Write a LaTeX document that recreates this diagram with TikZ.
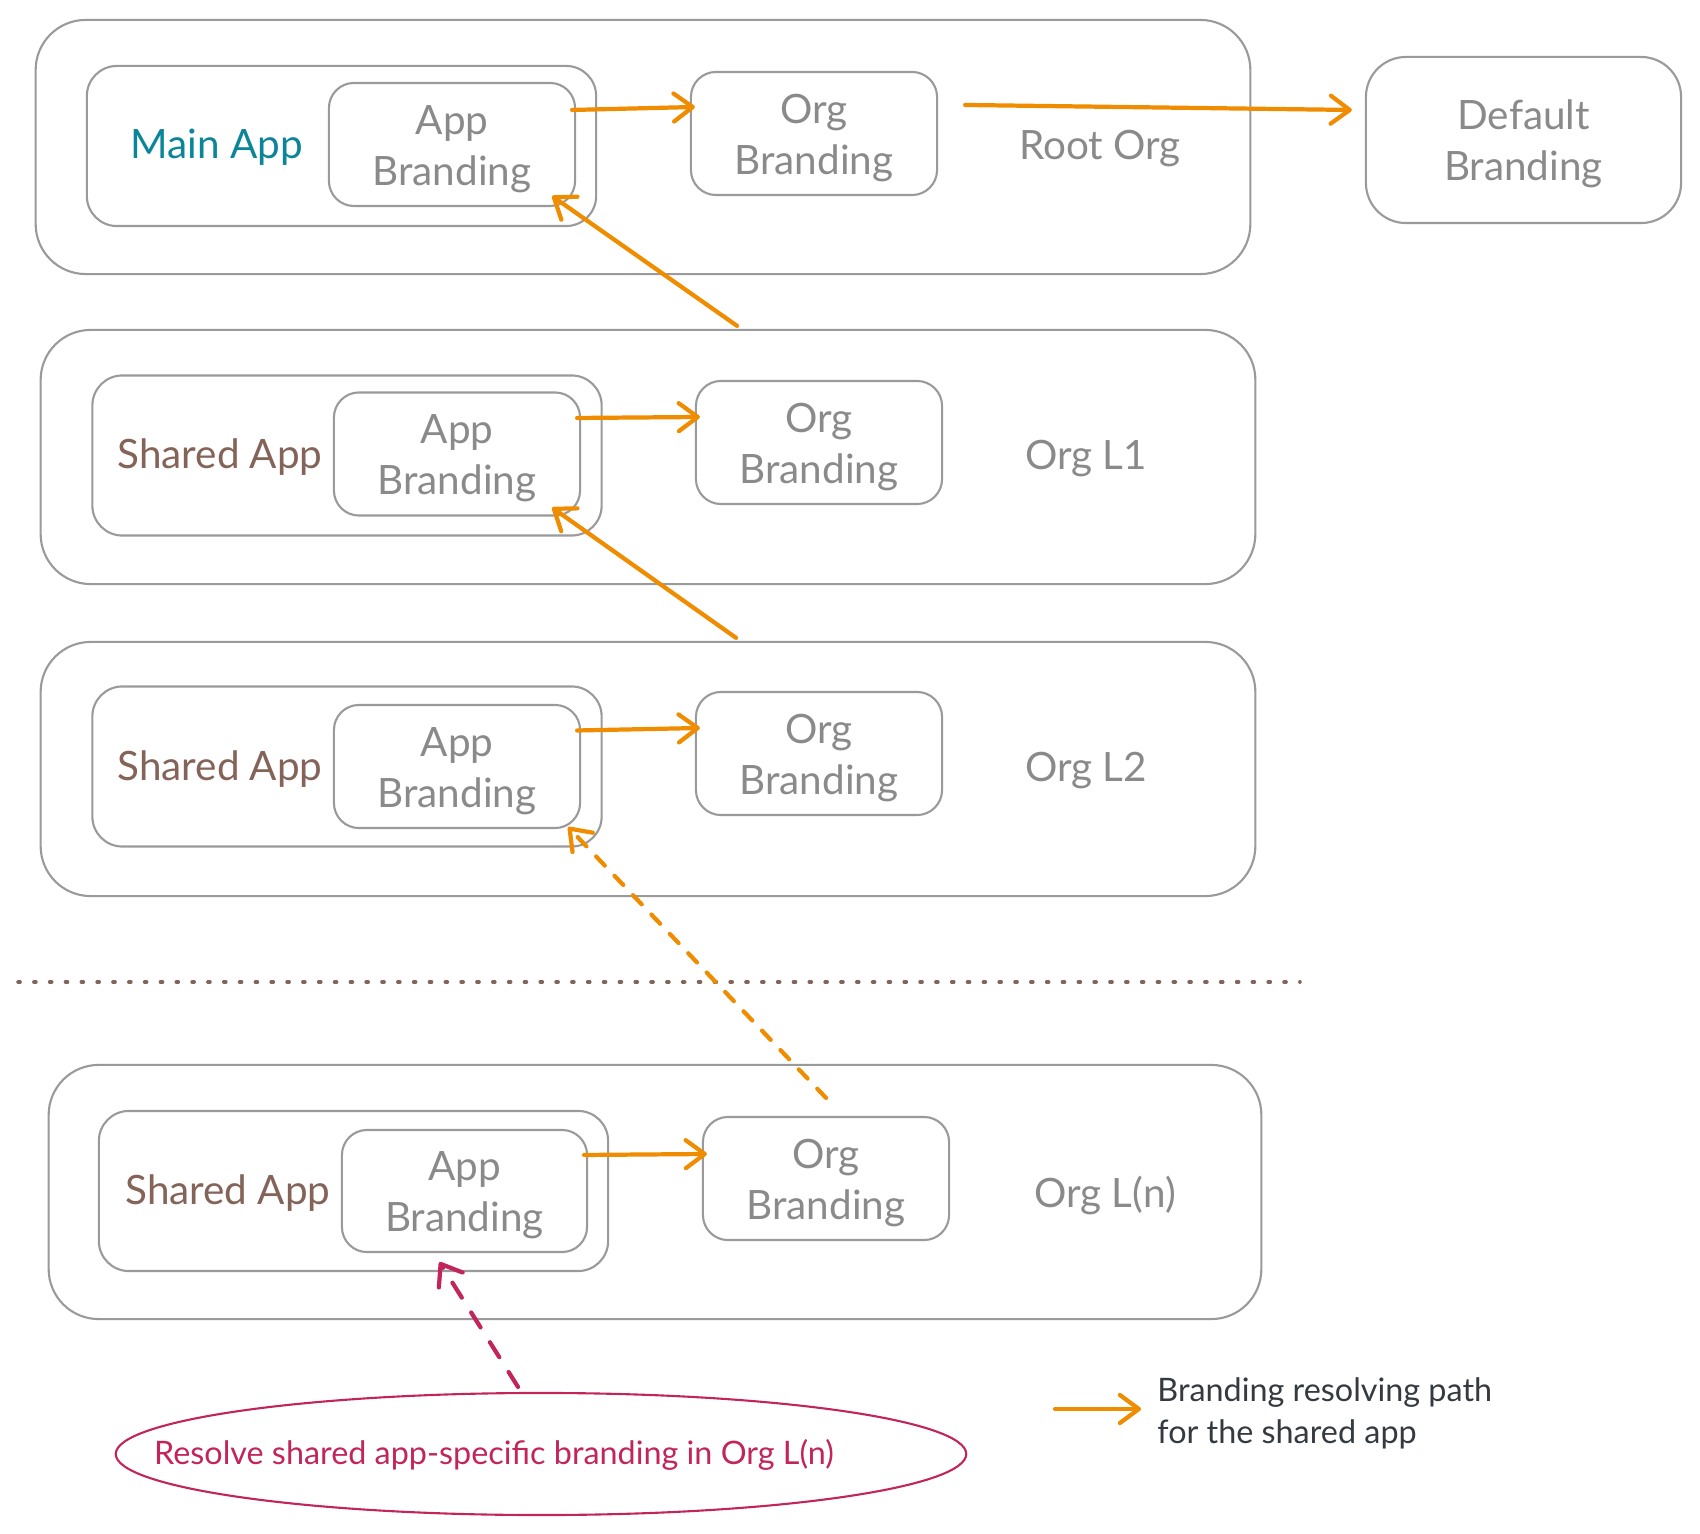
\documentclass[tikz,border=0pt]{standalone}
\usepackage{fontspec}
\setmainfont{Lato}
\usepackage{xcolor}
\usepackage{tikz}
\usetikzlibrary{shapes,arrows.meta,positioning,calc}

\definecolor{boxgray}{HTML}{9A9A9A}
\definecolor{txtgray}{HTML}{8A8A8A}
\definecolor{apptealc}{HTML}{0C8599}
\definecolor{appbrown}{HTML}{846358}
\definecolor{pathorange}{HTML}{F08C00}
\definecolor{goalred}{HTML}{C2255C}
\definecolor{darktext}{HTML}{343A40}

\newcommand{\brandfont}{\fontsize{11.5}{14.5}\selectfont}
\newcommand{\notefont}{\fontsize{9.2}{12}\selectfont}
\newcommand{\brandlines}[2]{\rule{0pt}{10.8pt}#1\\#2}

\tikzset{
    orgbox/.style={draw=boxgray, line width=0.6pt, rounded corners=0.5cm, minimum width=12.14cm, minimum height=2.54cm},
    appbox/.style={draw=boxgray, line width=0.6pt, rounded corners=0.3cm, minimum width=5.09cm, minimum height=1.6cm},
    brandbox/.style={draw=boxgray, line width=0.6pt, rounded corners=0.25cm, minimum width=2.46cm, minimum height=1.23cm,
        text=txtgray, align=center, font=\brandfont},
    lbl/.style={text=txtgray, font=\brandfont},
    tipbarb/.style={-{Straight Barb[length=1.9mm,width=2.8mm,line cap=round,line join=round]}},
    resolvearrow/.style={draw=pathorange, line width=1.2pt, line cap=round, tipbarb},
}

\begin{document}
\begin{tikzpicture}[x=0.01cm, y=-0.01cm]
    \useasboundingbox (0,0) rectangle (1700,1534);

    % Root org
    \node[orgbox] (root) at (643,147) {};
    \node[appbox] (app0) at (341.5,146) {};
    \node[brandbox] (ab0) at (452,144.5) {\brandlines{App}{Branding}};
    \node[lbl, text=apptealc] (main) at (217,147) {Main App};
    \node[brandbox] (ob0) at (814,133.5) {\brandlines{Org}{Branding}};
    \node[lbl] (rootlbl) at (1100,149) {Root Org};
    \node[brandbox, minimum width=3.15cm, minimum height=1.66cm, rounded corners=0.4cm] (def) at (1523.5,140) {\brandlines{Default}{Branding}};

    % Org L1
    \node[orgbox] (l1) at (648,457) {};
    \node[appbox] (app1) at (347,455.5) {};
    \node[brandbox] (ab1) at (457,454) {\brandlines{App}{Branding}};
    \node[lbl, text=appbrown] (shared1) at (220,457) {Shared App};
    \node[brandbox] (ob1) at (819,442.5) {\brandlines{Org}{Branding}};
    \node[lbl] (l1lbl) at (1086,459) {Org L1};

    % Org L2
    \node[orgbox] (l2) at (648,769) {};
    \node[appbox] (app2) at (347,766.5) {};
    \node[brandbox] (ab2) at (457,766.5) {\brandlines{App}{Branding}};
    \node[lbl, text=appbrown] (shared2) at (220,769) {Shared App};
    \node[brandbox] (ob2) at (819,753.5) {\brandlines{Org}{Branding}};
    \node[lbl] (l2lbl) at (1086,771) {Org L2};

    % Separator
    \coordinate (sepL) at (18,982);
    \coordinate (sepR) at (1300,982);
    \draw[appbrown, line width=1pt, dash pattern=on 0.6pt off 3.9pt, line cap=round] (sepL) -- (sepR);

    % Org L(n)
    \node[orgbox, minimum width=12.12cm] (ln) at (655,1192) {};
    \node[appbox] (app3) at (353.5,1191) {};
    \node[brandbox, minimum width=2.45cm, minimum height=1.22cm] (ab3) at (464.5,1191) {\brandlines{App}{Branding}};
    \node[lbl, text=appbrown] (shared3) at (228,1193) {Shared App};
    \node[brandbox] (ob3) at (826,1178.5) {\brandlines{Org}{Branding}};
    \node[lbl] (lnlbl) at (1105,1196) {Org L(n)};

    % Resolving path
    \draw[resolvearrow] ([xshift=-0.04cm,yshift=0.345cm]ab0.east) -- ([xshift=0.05cm,yshift=0.265cm]ob0.west);
    \draw[resolvearrow] ([xshift=0.27cm,yshift=0.285cm]ob0.east) -- ([xshift=-0.13cm,yshift=0.3cm]def.west);
    \draw[resolvearrow] ([xshift=-0.04cm,yshift=0.36cm]ab1.east) -- ([xshift=0.05cm,yshift=0.255cm]ob1.west);
    \draw[resolvearrow] ([xshift=-0.04cm,yshift=0.36cm]ab2.east) -- ([xshift=0.05cm,yshift=0.255cm]ob2.west);
    \draw[resolvearrow] ([xshift=-0.04cm,yshift=0.36cm]ab3.east) -- ([xshift=0.05cm,yshift=0.245cm]ob3.west);
    \draw[resolvearrow] ([xshift=0.89cm,yshift=0.03cm]l1.north) -- ([xshift=-0.24cm,yshift=0.11cm]ab0.south east);
    \draw[resolvearrow] ([xshift=0.88cm,yshift=0.03cm]l2.north) -- ([xshift=-0.29cm,yshift=0.09cm]ab1.south east);
    \draw[resolvearrow, dash pattern=on 3.6pt off 4pt] ([yshift=0.18cm]ob3.north) -- ([xshift=-0.13cm,yshift=0.02cm]ab2.south east);

    % Goal
    \node[draw=goalred, ellipse, line width=0.6pt, minimum width=8.5cm, minimum height=1.22cm, inner sep=0pt] (goal) at (541,1454) {};
    \node[text=goalred, font=\notefont] (goaltext) at (494,1455) {Resolve shared app-specific branding in Org L(n)};
    \draw[draw=goalred, line width=1.2pt, line cap=round, dash pattern=on 5pt off 5pt, tipbarb]
        ([xshift=-0.23cm,yshift=0.05cm]goal.north) -- ([xshift=-0.25cm,yshift=-0.09cm]ab3.south);

    % Legend
    \coordinate (legstart) at (1055,1409);
    \coordinate (legtip) at (1141,1409);
    \draw[resolvearrow] (legstart) -- (legtip);
    \node[anchor=west, align=left, text=darktext, font=\notefont] (legtext) at (1145,1413) {Branding resolving path\\for the shared app};
\end{tikzpicture}
\end{document}
